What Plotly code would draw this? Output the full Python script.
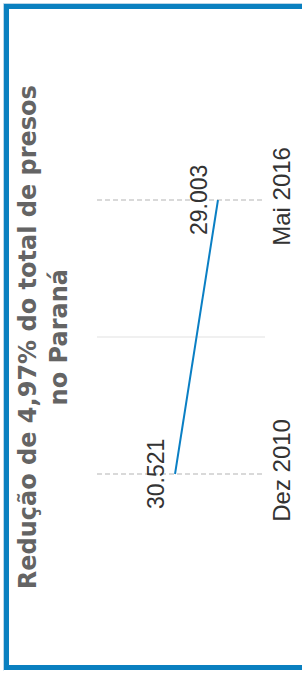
import plotly.graph_objects as go

# Data
categories = ["Dez 2010", "Mai 2016"]
presos = [30521, 29003]
title_text = "Redução de 4,97% do total de presos<br>no Paraná"


def fmt(v):
    return f"{v:,}".replace(",", ".")


idx = list(range(len(categories)))

fig = go.Figure()
fig.add_trace(go.Scatter(
    x=presos, y=idx, mode="lines",
    line=dict(color="#0a7fc4", width=2),
    hoverinfo="skip", showlegend=False, cliponaxis=False,
))

L, R, T, B = 97, 37, 63, 63

for v, i in zip(presos, idx):
    fig.add_annotation(
        x=v, y=i, xref="x", yref="y", text=fmt(v), showarrow=False,
        textangle=-90, xanchor="right", yanchor="middle", xshift=-4,
        font=dict(family="Arial", size=23, color="#333333"),
    )

fig.add_annotation(
    x=-0.32, y=0.5, xref="paper", yref="paper", text=title_text,
    showarrow=False, textangle=-90, xanchor="center", yanchor="middle",
    align="center",
    font=dict(family="DejaVu Sans", size=24, color="#646464", weight="bold"),
)

# frame (left, top, bottom edges)
W, H = 302, 674
pw, ph = W - L - R, H - T - B
def px2x(p):
    return (p - L) / pw
def px2y(p):
    return (H - B - p) / ph

xl, xr = px2x(6.5), px2x(W)
yt, yb = px2y(6.5), px2y(667.5)
frame = dict(color="#0a80c0", width=5)
halo = dict(color="#b9d6e8", width=1)
for (x0, y0, x1, y1, ln) in [
    (px2x(3.5), px2y(3.5), px2x(3.5), px2y(670.5), halo),
    (px2x(3.5), px2y(3.5), xr, px2y(3.5), halo),
    (xl, yt, xl, yb, frame),
    (px2x(4), yt, xr, yt, frame),
    (px2x(4), yb, xr, yb, frame),
]:
    fig.add_shape(type="line", xref="paper", yref="paper",
                  x0=x0, y0=y0, x1=x1, y1=y1, line=ln, layer="above")

fig.update_layout(
    template="none",
    width=W, height=H,
    margin=dict(l=L, r=R, t=T, b=B, pad=0, autoexpand=False),
    paper_bgcolor="white", plot_bgcolor="white",
    xaxis=dict(range=[33280, 27340], showgrid=False, zeroline=False,
               showticklabels=False, ticks="", showline=False, fixedrange=True,
               automargin=False),
    yaxis=dict(range=[-0.5, 1.5], tickvals=idx, ticktext=categories,
               side="right", tickangle=-90, showline=False, zeroline=False,
               ticks="", showgrid=True, gridcolor="#d9d9d9", gridwidth=1.5,
               griddash="5px,3px", automargin=False,
               tickfont=dict(family="Arial", size=24, color="#333333"),
               minor=dict(tickvals=[0.5], showgrid=True, gridcolor="#f0f0f0",
                          gridwidth=1.5, griddash="solid", ticks=""),
               fixedrange=True),
)

fig.write_html("out.html", config={"displayModeBar": False},
               post_script="document.body.style.margin='0';")
